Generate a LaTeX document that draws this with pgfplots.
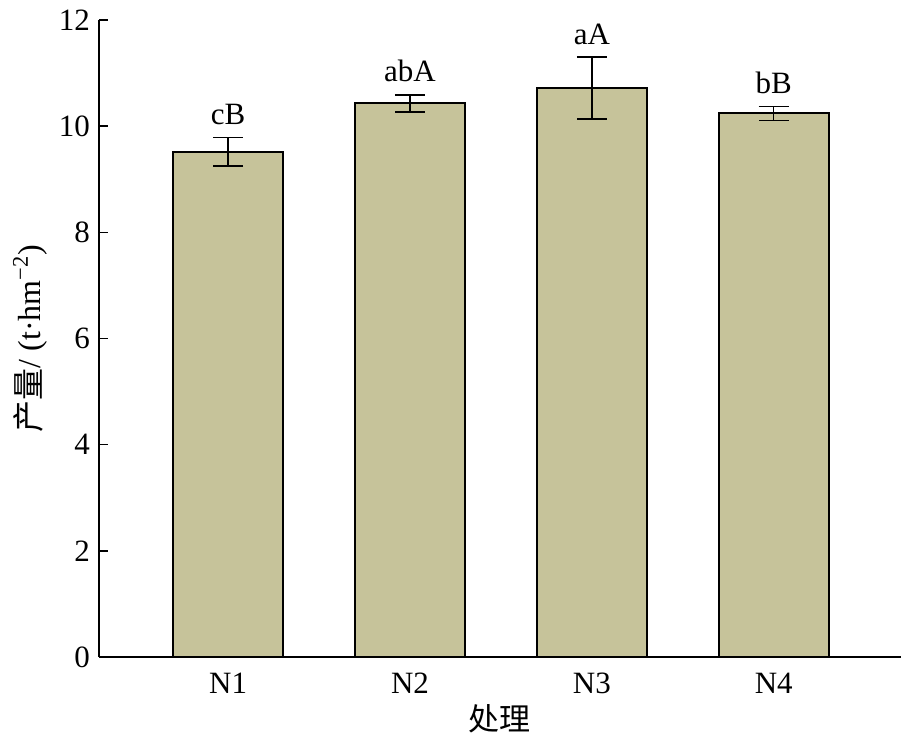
\documentclass[border=0pt]{standalone}
\usepackage{fontspec}
\setmainfont{Liberation Serif}
\newfontfamily\cjk{Noto Sans CJK SC}
\usepackage{pgfplots}
\pgfplotsset{compat=1.18}
\definecolor{barfill}{RGB}{198,195,154}
\begin{document}
\begin{tikzpicture}
\useasboundingbox (-49.5pt,-41.5pt) rectangle (401.5pt,328.5pt);
\begin{axis}[
  scale only axis,
  width=401pt, height=318.5pt,
  at={(0,0)}, anchor=south west,
  xmin=-0.71, xmax=3.70,
  ymin=0, ymax=12,
  axis x line*=bottom, axis y line*=left,
  axis line style={line width=1pt},
  xtick={0,1,2,3},
  xticklabels={N1,N2,N3,N4},
  xtick style={draw=none},
  ytick={0,2,4,6,8,10,12},
  ytick style={line width=0.8pt, black},
  tick align=inside,
  major tick length=4.5pt,
  tick label style={font=\fontsize{15.5}{18}\selectfont},
  /pgf/number format/assume math mode=true,
  yticklabel style={xshift=-1pt},
  xticklabel style={yshift=-4.5pt},
  xlabel={\cjk\fontsize{15.5}{18}\selectfont 处理},
  ylabel={\fontsize{16}{18}\selectfont {\cjk 产量}/ (t·hm\textsuperscript{−2})},
  xlabel style={yshift=1.5pt},
  ylabel style={yshift=-1pt},
  clip=false,
]
\addplot[ybar, bar width=55pt, fill=barfill, draw=black, line width=1pt,
  error bars/.cd, y dir=both, y explicit,
  error bar style={line width=0.8pt, black},
  error mark options={rotate=90, mark size=7.5pt, line width=0.8pt, black}]
  coordinates {
  (0,9.52) +- (0,0.27)
  (1,10.43) +- (0,0.16)
  (2,10.72) +- (0,0.58)
  (3,10.24) +- (0,0.13)
};
\node[anchor=base, yshift=6.5pt, font=\fontsize{15.5}{18}\selectfont] at (axis cs:0,9.79) {cB};
\node[anchor=base, yshift=6.5pt, font=\fontsize{15.5}{18}\selectfont] at (axis cs:1,10.59) {abA};
\node[anchor=base, yshift=6.5pt, font=\fontsize{15.5}{18}\selectfont] at (axis cs:2,11.30) {aA};
\node[anchor=base, yshift=6.5pt, font=\fontsize{15.5}{18}\selectfont] at (axis cs:3,10.37) {bB};
\end{axis}
\end{tikzpicture}
\end{document}
